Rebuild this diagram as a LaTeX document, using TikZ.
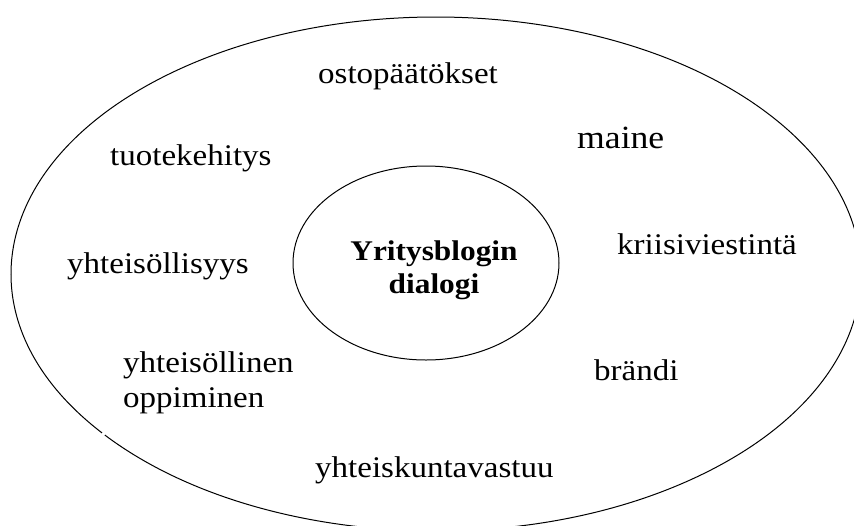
\documentclass[tikz,border=0pt]{standalone}
\usepackage{fontspec}
\setmainfont[FakeStretch=1.1]{Liberation Serif}
\usetikzlibrary{shapes.geometric}
\begin{document}
\begin{tikzpicture}[x=1pt,y=-1pt,
  term/.style={inner sep=0pt,font=\fontsize{30}{35}\selectfont},
  bigterm/.style={inner sep=0pt,font=\fontsize{32.4}{38}\selectfont},
  core/.style={inner sep=0pt,align=center,font=\fontsize{28.5}{33}\selectfont\bfseries},
  ring/.style={draw=black,line width=1pt}]
\useasboundingbox (0,0) rectangle (854,525);
% outer field, with its small break at the lower left
\coordinate (oc) at (436,274);
\draw[ring] (oc) ++(141.8:425 and 257) arc[start angle=141.8,end angle=501.2,x radius=425,y radius=257];
% inner ellipse
\node[ring,ellipse,minimum width=266pt,minimum height=194pt] (hub) at (426,263) {};
\node[core,anchor=base] (hubA) at (434,260) {Yritysblogin};
\node[core,anchor=base] (hubB) at (434,293) {dialogi};
% surrounding themes
\node[term,anchor=base west] (osto) at (318,83) {ostopäätökset};
\node[bigterm,anchor=base west] (maine) at (577,148) {maine};
\node[term,anchor=base west] (tuote) at (110,165) {tuotekehitys};
\node[term,anchor=base west] (yht) at (67,273) {yhteisöllisyys};
\node[term,anchor=base west] (kriisi) at (617,254) {kriisiviestintä};
\node[term,anchor=base west] (oppiA) at (123,372) {yhteisöllinen};
\node[term,anchor=base west] (oppiB) at (123,407) {oppiminen};
\node[term,anchor=base west] (brandi) at (594,380) {brändi};
\node[term,anchor=base west] (vastuu) at (315,477) {yhteiskuntavastuu};
\end{tikzpicture}
\end{document}
